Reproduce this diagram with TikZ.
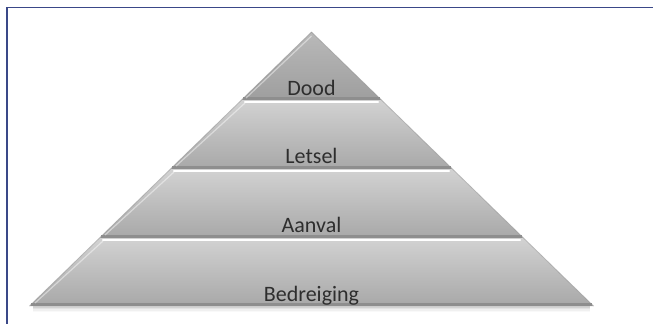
\documentclass[tikz,border=0pt]{standalone}
\usepackage{fontspec}
\setmainfont{Carlito}
\definecolor{frameblue}{HTML}{3A4888}
\definecolor{bandtop}{HTML}{D2D2D2}
\definecolor{bandbot}{HTML}{A8A8A8}
\definecolor{doodtop}{HTML}{B9B9B9}
\definecolor{doodbot}{HTML}{9E9E9E}
\definecolor{edgedark}{HTML}{8E8E8E}
\definecolor{labelgray}{HTML}{2E2E2E}
\tikzset{
  band/.style={top color=bandtop, bottom color=bandbot},
  topband/.style={top color=doodtop, bottom color=doodbot},
  hilite/.style={draw=white, line width=2.4pt, line cap=round},
  baseline dark/.style={draw=edgedark, line width=2.8pt},
  sideglow/.style={draw=white, opacity=0.45, line width=1.2pt},
  label/.style={font=\fontsize{22}{24}\selectfont, text=labelgray, anchor=base, inner sep=0pt},
  frameline/.style={draw=frameblue, line width=1.8pt}
}
\begin{document}
\begin{tikzpicture}[x=1pt,y=-1pt]
\useasboundingbox (0,0) rectangle (653,324);
% frame (top and left)
\draw[frameline] (653,7.5) -- (7,7.5) -- (7,324);
% shadow under base
\foreach \d/\o in {1/0.35,2.5/0.22,4/0.12,5.5/0.05}{
  \draw[draw=gray, opacity=\o, line width=1.5pt] (33,306+\d) -- (590,306+\d);
}
% bands
\shade[topband] (311.5,32) -- (381.5,100) -- (241.5,100) -- cycle;
\shade[band] (241.5,100) -- (381.5,100) -- (452.5,169) -- (170.5,169) -- cycle;
\shade[band] (170.5,169) -- (452.5,169) -- (523.5,238) -- (99.5,238) -- cycle;
\shade[band] (99.5,238) -- (523.5,238) -- (593.5,306) -- (29.5,306) -- cycle;
% bottom dark strips
\draw[baseline dark] (243,98.6) -- (380,98.6);
\draw[baseline dark] (172,167.6) -- (451,167.6);
\draw[baseline dark] (101,236.6) -- (522,236.6);
\draw[baseline dark] (31,304.6) -- (592,304.6);
% top highlights
\draw[hilite] (245,102) -- (378,102);
\draw[hilite] (174,171) -- (449,171);
\draw[hilite] (103,240) -- (520,240);
% side bevel glow
\draw[sideglow] (311.5,36) -- (246,98);
\draw[sideglow] (245,103) -- (176,166);
\draw[sideglow] (174,172) -- (105,235);
\draw[sideglow] (103,241) -- (35,303);
\draw[draw=edgedark, opacity=0.5, line width=0.8pt] (311.5,32) -- (29.5,306);
\draw[draw=edgedark, opacity=0.5, line width=0.8pt] (311.5,32) -- (593.5,306);
% labels
\node[label] (dood) at (311.5,95) {Dood};
\node[label] (letsel) at (311.5,163.5) {Letsel};
\node[label] (aanval) at (311.5,232.5) {Aanval};
\node[label] (bedreiging) at (311.5,301.5) {Bedreiging};
\end{tikzpicture}
\end{document}
